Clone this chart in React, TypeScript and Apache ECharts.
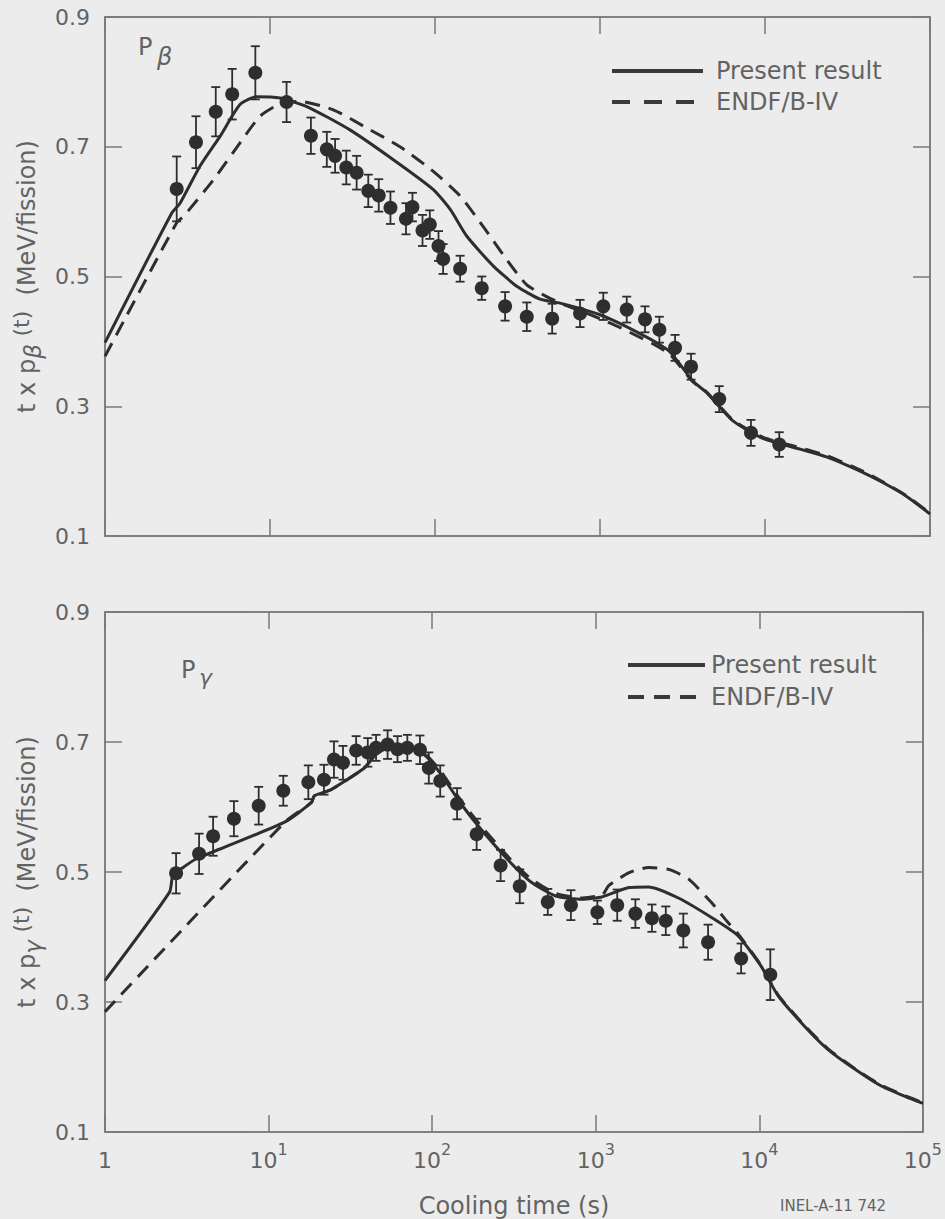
import React, { useEffect, useRef } from "react";
import * as echarts from "echarts";

// ---------- Data ----------
// Upper panel (beta): measured points
const betaT = [2.72, 3.56, 4.69, 5.9, 8.15, 12.6, 17.7, 22.1, 24.8, 29, 33.5, 39.4, 45.6, 53.7, 66.7, 73, 84, 93, 105, 112, 142, 192, 266, 360, 513, 757, 1047, 1452, 1874, 2290, 2850, 3563, 5280, 8220, 12200];
const betaVal = [0.635, 0.707, 0.754, 0.781, 0.814, 0.769, 0.717, 0.696, 0.686, 0.668, 0.66, 0.632, 0.625, 0.606, 0.589, 0.607, 0.571, 0.58, 0.547, 0.527, 0.512, 0.482, 0.454, 0.438, 0.435, 0.443, 0.454, 0.449, 0.434, 0.418, 0.39, 0.361, 0.311, 0.259, 0.241];
const betaErr = [0.05, 0.04, 0.038, 0.039, 0.041, 0.031, 0.028, 0.027, 0.026, 0.026, 0.026, 0.025, 0.025, 0.025, 0.024, 0.022, 0.024, 0.022, 0.023, 0.023, 0.02, 0.018, 0.022, 0.022, 0.023, 0.021, 0.021, 0.02, 0.02, 0.02, 0.02, 0.02, 0.02, 0.02, 0.019];

const betaPresent = [[1, 0.398], [2.54, 0.598], [2.85, 0.613], [3.76, 0.67], [4.98, 0.716], [6.58, 0.765], [8.3, 0.777], [11.5, 0.775], [16.7, 0.762], [30.5, 0.726], [55.9, 0.68], [97.7, 0.634], [124, 0.603], [156, 0.562], [226, 0.516], [313, 0.485], [433, 0.465], [572, 0.459], [800, 0.449], [1000, 0.441], [1260, 0.43], [1600, 0.417], [2100, 0.401], [2650, 0.384], [3680, 0.338], [4430, 0.321], [6430, 0.277], [9770, 0.25], [16300, 0.234], [23600, 0.222], [37700, 0.2], [52100, 0.182], [72200, 0.161], [100000, 0.134]];
const betaENDF = [[1, 0.377], [2.72, 0.583], [3.0, 0.593], [4.54, 0.649], [6.58, 0.706], [8.7, 0.747], [11.5, 0.766], [15.2, 0.77], [24.2, 0.757], [38.5, 0.729], [61.4, 0.7], [97.7, 0.662], [142, 0.624], [196, 0.577], [272, 0.526], [360, 0.487], [475, 0.469], [600, 0.457], [800, 0.445], [1000, 0.435], [1260, 0.424], [1600, 0.411], [2100, 0.396], [2650, 0.38], [3680, 0.337], [4430, 0.322], [6430, 0.278], [9770, 0.252], [16300, 0.236], [23600, 0.224], [37700, 0.202], [52100, 0.183], [72200, 0.162], [100000, 0.135]];

// Lower panel (gamma): measured points
const gammaT = [2.72, 3.76, 4.58, 6.14, 8.7, 12.3, 17.5, 21.8, 25.1, 28.5, 34.3, 40.4, 45.4, 53.4, 61.4, 70.5, 84.2, 95.4, 112, 142, 187, 262, 343, 509, 705, 1023, 1353, 1747, 2205, 2680, 3430, 4860, 7740, 11670];
const gammaVal = [0.498, 0.528, 0.555, 0.582, 0.602, 0.625, 0.638, 0.642, 0.673, 0.668, 0.687, 0.684, 0.691, 0.696, 0.689, 0.691, 0.688, 0.66, 0.64, 0.605, 0.558, 0.51, 0.478, 0.454, 0.449, 0.438, 0.449, 0.436, 0.429, 0.425, 0.41, 0.392, 0.367, 0.342];
const gammaErr = [0.031, 0.031, 0.03, 0.027, 0.029, 0.023, 0.026, 0.023, 0.028, 0.026, 0.022, 0.022, 0.02, 0.022, 0.02, 0.02, 0.022, 0.024, 0.024, 0.024, 0.024, 0.024, 0.026, 0.02, 0.023, 0.018, 0.024, 0.022, 0.021, 0.022, 0.026, 0.027, 0.023, 0.039];

const gammaPresent = [[1, 0.333], [2.48, 0.469], [2.6, 0.495], [3.0, 0.507], [3.6, 0.52], [5.0, 0.535], [12.6, 0.577], [18.3, 0.607], [19, 0.617], [24.2, 0.627], [38.5, 0.66], [45, 0.68], [55, 0.693], [70, 0.694], [90, 0.68], [112, 0.652], [150, 0.605], [200, 0.565], [300, 0.515], [400, 0.485], [570, 0.463], [830, 0.458], [1100, 0.462], [1600, 0.476], [2100, 0.477], [3200, 0.46], [5100, 0.43], [7400, 0.402], [10200, 0.356], [13000, 0.31], [18700, 0.264], [26000, 0.228], [37700, 0.198], [54600, 0.172], [79000, 0.154], [100000, 0.144]];
const gammaENDF = [[1, 0.285], [12.6, 0.577], [18.3, 0.607], [19, 0.617], [24.2, 0.627], [38.5, 0.66], [45, 0.68], [55, 0.693], [70, 0.694], [90, 0.682], [112, 0.656], [150, 0.61], [200, 0.57], [300, 0.52], [400, 0.49], [570, 0.467], [830, 0.46], [1100, 0.465], [1200, 0.479], [1600, 0.499], [2100, 0.507], [2800, 0.504], [3700, 0.489], [5100, 0.453], [6400, 0.423], [7400, 0.405], [10200, 0.357], [13000, 0.311], [18700, 0.265], [26000, 0.229], [37700, 0.199], [54600, 0.173], [79000, 0.155], [100000, 0.145]];

const yTicks = [0.1, 0.3, 0.5, 0.7, 0.9];
const legendLabels = ["Present result", "ENDF/B-IV"];

// ---------- Styling ----------
const FONT = "DejaVu Sans";
const TXT = "#636363";
const AX = "#7a7a7a";
const INK = "#2e2e2e";
const BG = "#ececec";

function errData(t: number[], v: number[], e: number[]) {
  return t.map((x, i) => [x, v[i], v[i] - e[i], v[i] + e[i]]);
}
function ptData(t: number[], v: number[]) {
  return t.map((x, i) => [x, v[i]]);
}

const renderErr = (params: any, api: any) => {
  const x = api.value(0);
  const lo = api.value(2);
  const hi = api.value(3);
  const a = api.coord([x, hi]);
  const b = api.coord([x, lo]);
  const cw = 4.5;
  const style = { stroke: INK, lineWidth: 1.8 };
  return {
    type: "group",
    children: [
      { type: "line", shape: { x1: a[0], y1: a[1], x2: b[0], y2: b[1] }, style },
      { type: "line", shape: { x1: a[0] - cw, y1: a[1], x2: a[0] + cw, y2: a[1] }, style },
      { type: "line", shape: { x1: b[0] - cw, y1: b[1], x2: b[0] + cw, y2: b[1] }, style },
    ],
  };
};

const txt = (x: number, y: number, text: string, size: number, italic = false) => ({
  type: "text",
  x,
  y,
  style: {
    text,
    fill: TXT,
    fontSize: size,
    fontFamily: FONT,
    fontStyle: italic ? "italic" : "normal",
    verticalAlign: "middle",
  },
});

export default function App() {
  const ref = useRef<HTMLDivElement>(null);
  useEffect(() => {
    if (!ref.current) return;
    const chart = echarts.init(ref.current, null, { renderer: "svg" });

    const xBase = (grid: number, pos: "top" | "bottom", labels: boolean) => ({
      type: "log",
      logBase: 10,
      gridIndex: grid,
      position: pos,
      min: 1,
      max: 100000,
      axisLine: { show: true, lineStyle: { color: AX, width: 1.5 } },
      axisTick: { show: true, inside: true, length: 17, lineStyle: { color: AX, width: 1.5 } },
      minorTick: { show: false },
      splitLine: { show: false },
      axisLabel: labels
        ? {
            show: true,
            margin: 9,
            color: TXT,
            fontFamily: FONT,
            formatter: (v: number) => {
              const n = Math.round(Math.log10(v));
              return n === 0 ? "{b|1}" : "{b|10}{s|" + n + "}";
            },
            rich: {
              b: { fontSize: 22, lineHeight: 30, verticalAlign: "bottom", color: TXT, fontFamily: FONT },
              s: { fontSize: 16, lineHeight: 16, verticalAlign: "top", color: TXT, fontFamily: FONT },
            },
          }
        : { show: false },
      name: labels ? "Cooling time (s)" : "",
      nameLocation: "middle",
      nameGap: 62,
      nameTextStyle: { color: TXT, fontFamily: FONT, fontSize: 24 },
    });

    const yBase = (grid: number, pos: "left" | "right", labels: boolean, sym: string) => ({
      type: "value",
      gridIndex: grid,
      position: pos,
      min: yTicks[0],
      max: yTicks[yTicks.length - 1],
      interval: 0.2,
      axisLine: { show: true, lineStyle: { color: AX, width: 1.5 } },
      axisTick: { show: true, inside: true, length: 17, lineStyle: { color: AX, width: 1.5 } },
      splitLine: { show: false },
      axisLabel: labels
        ? { show: true, margin: 15, color: TXT, fontFamily: FONT, fontSize: 22, formatter: (v: number) => v.toFixed(1) }
        : { show: false },
      name: labels ? "{n|t x p}{sub|" + sym + "}{n| }{sup|(t)}{n|  (MeV/fission)}" : "",
      nameLocation: "middle",
      nameRotate: 90,
      nameGap: 44,
      nameTextStyle: {
        color: TXT,
        fontFamily: FONT,
        rich: {
          n: { fontSize: 24, lineHeight: 34, verticalAlign: "middle", color: TXT, fontFamily: FONT },
          sub: { fontSize: 23, lineHeight: 23, verticalAlign: "bottom", color: TXT, fontFamily: FONT, fontStyle: "italic" },
          sup: { fontSize: 22, lineHeight: 30, verticalAlign: "top", color: TXT, fontFamily: FONT },
        },
      },
    });

    const solidLine = { color: INK, width: 3, type: "solid" };
    const dashLine = { color: INK, width: 3, type: [15, 9] };

    const lineSeries = (name: string, data: number[][], xi: number, yi: number, style: any) => ({
      name,
      type: "line",
      xAxisIndex: xi,
      yAxisIndex: yi,
      data,
      showSymbol: false,
      symbol: "none",
      smooth: 0.2,
      lineStyle: style,
      z: 2,
      silent: true,
    });

    const option: any = {
      animation: false,
      backgroundColor: BG,
      textStyle: { fontFamily: FONT },
      grid: [
        { left: 105, top: 17, width: 825, height: 519, show: true, borderColor: AX, borderWidth: 1.5, backgroundColor: "transparent" },
        { left: 105, top: 612, width: 826, height: 520, show: true, borderColor: AX, borderWidth: 1.5, backgroundColor: "transparent" },
      ],
      xAxis: [xBase(0, "bottom", false), xBase(0, "top", false), xBase(1, "bottom", true), xBase(1, "top", false)],
      yAxis: [yBase(0, "left", true, "β"), yBase(0, "right", false, ""), yBase(1, "left", true, "γ"), yBase(1, "right", false, "")],
      series: [
        lineSeries(legendLabels[0], betaPresent, 0, 0, solidLine),
        lineSeries(legendLabels[1], betaENDF, 0, 0, dashLine),
        lineSeries(legendLabels[0] + " γ", gammaPresent, 2, 2, solidLine),
        lineSeries(legendLabels[1] + " γ", gammaENDF, 2, 2, dashLine),
        {
          type: "custom",
          xAxisIndex: 0,
          yAxisIndex: 0,
          renderItem: renderErr,
          data: errData(betaT, betaVal, betaErr),
          encode: { x: 0, y: [1, 2, 3] },
          z: 3,
          silent: true,
        },
        {
          type: "custom",
          xAxisIndex: 2,
          yAxisIndex: 2,
          renderItem: renderErr,
          data: errData(gammaT, gammaVal, gammaErr),
          encode: { x: 0, y: [1, 2, 3] },
          z: 3,
          silent: true,
        },
        {
          type: "scatter",
          xAxisIndex: 0,
          yAxisIndex: 0,
          data: ptData(betaT, betaVal),
          symbolSize: 14,
          itemStyle: { color: INK, opacity: 1 },
          z: 4,
          silent: true,
        },
        {
          type: "scatter",
          xAxisIndex: 2,
          yAxisIndex: 2,
          data: ptData(gammaT, gammaVal),
          symbolSize: 14,
          itemStyle: { color: INK, opacity: 1 },
          z: 4,
          silent: true,
        },
      ],
      graphic: [
        // top legend
        { type: "line", shape: { x1: 612, y1: 71, x2: 703, y2: 71 }, style: { stroke: "#3a3a3a", lineWidth: 4 } },
        txt(716, 71, legendLabels[0], 24),
        { type: "line", shape: { x1: 612, y1: 102, x2: 703, y2: 102 }, style: { stroke: "#3a3a3a", lineWidth: 4, lineDash: [18, 14] } },
        txt(716, 102, legendLabels[1], 24),
        // bottom legend
        { type: "line", shape: { x1: 628, y1: 665, x2: 705, y2: 665 }, style: { stroke: "#3a3a3a", lineWidth: 4 } },
        txt(711, 665, legendLabels[0], 24),
        { type: "line", shape: { x1: 628, y1: 697, x2: 705, y2: 697 }, style: { stroke: "#3a3a3a", lineWidth: 4, lineDash: [16, 10] } },
        txt(711, 697, legendLabels[1], 24),
        // panel labels
        txt(138, 47, "P", 24),
        txt(157, 57, "β", 24, true),
        txt(181, 670, "P", 24),
        txt(199, 677, "γ", 22, true),
        // figure id
        txt(780, 1206, "INEL-A-11 742", 15),
      ],
    };
    chart.setOption(option);
    return () => chart.dispose();
  }, []);

  return <div ref={ref} style={{ position: "fixed", left: 0, top: 0, width: 945, height: 1219 }} />;
}
